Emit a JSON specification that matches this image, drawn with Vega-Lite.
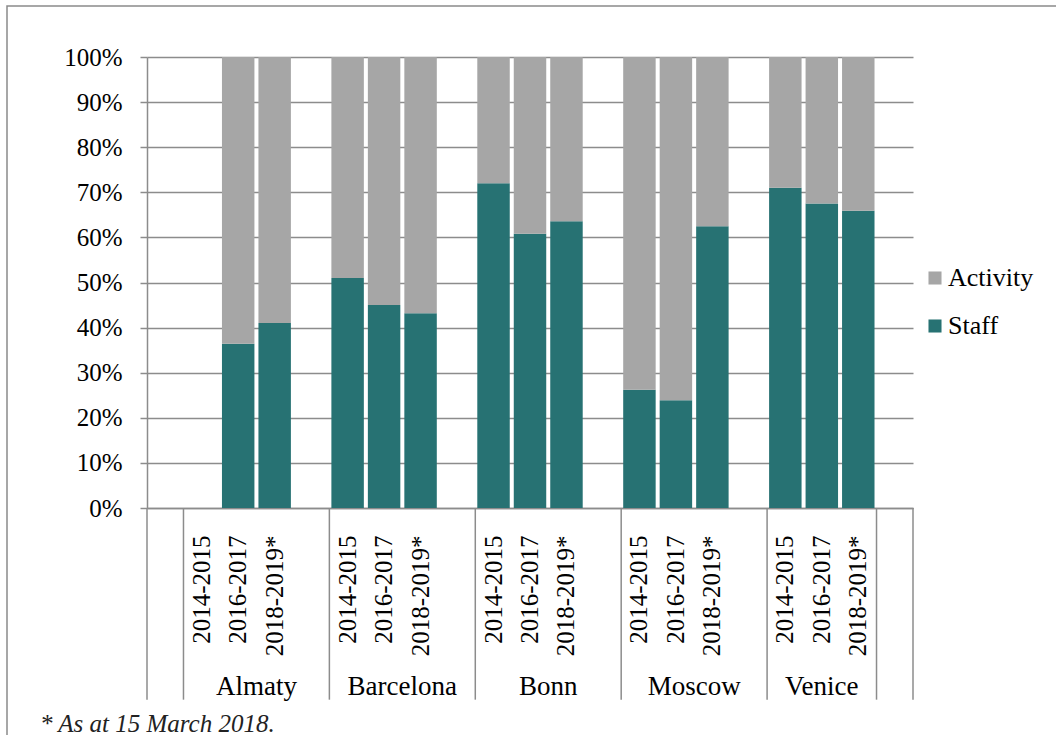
{
  "$schema": "https://vega.github.io/schema/vega-lite/v6.json",
  "width": 1060,
  "height": 740,
  "autosize": {"type": "none"},
  "padding": {"left": 7, "top": 6, "right": 0, "bottom": 0},
  "background": "white",
  "config": {
    "view": {"stroke": "#8a8a8a", "strokeWidth": 1.5},
    "font": "Liberation Serif",
    "text": {"font": "Liberation Serif", "color": "#000000"}
  },
  "title": {
    "text": "* As at 15 March 2018.",
    "orient": "top",
    "anchor": "start",
    "frame": "group",
    "offset": 0,
    "dx": 33,
    "dy": 751,
    "baseline": "alphabetic",
    "font": "Liberation Serif",
    "fontStyle": "italic",
    "fontWeight": "normal",
    "fontSize": 25,
    "color": "#222222"
  },
  "datasets": {
    "bars": [
      {"slot": "Almaty|2016-2017", "series": "Staff", "share": 0.364},
      {"slot": "Almaty|2016-2017", "series": "Activity", "share": 0.636},
      {"slot": "Almaty|2018-2019*", "series": "Staff", "share": 0.41},
      {"slot": "Almaty|2018-2019*", "series": "Activity", "share": 0.59},
      {"slot": "Barcelona|2014-2015", "series": "Staff", "share": 0.51},
      {"slot": "Barcelona|2014-2015", "series": "Activity", "share": 0.49},
      {"slot": "Barcelona|2016-2017", "series": "Staff", "share": 0.45},
      {"slot": "Barcelona|2016-2017", "series": "Activity", "share": 0.55},
      {"slot": "Barcelona|2018-2019*", "series": "Staff", "share": 0.432},
      {"slot": "Barcelona|2018-2019*", "series": "Activity", "share": 0.568},
      {"slot": "Bonn|2014-2015", "series": "Staff", "share": 0.72},
      {"slot": "Bonn|2014-2015", "series": "Activity", "share": 0.28},
      {"slot": "Bonn|2016-2017", "series": "Staff", "share": 0.608},
      {"slot": "Bonn|2016-2017", "series": "Activity", "share": 0.392},
      {"slot": "Bonn|2018-2019*", "series": "Staff", "share": 0.636},
      {"slot": "Bonn|2018-2019*", "series": "Activity", "share": 0.364},
      {"slot": "Moscow|2014-2015", "series": "Staff", "share": 0.262},
      {"slot": "Moscow|2014-2015", "series": "Activity", "share": 0.738},
      {"slot": "Moscow|2016-2017", "series": "Staff", "share": 0.239},
      {"slot": "Moscow|2016-2017", "series": "Activity", "share": 0.761},
      {"slot": "Moscow|2018-2019*", "series": "Staff", "share": 0.625},
      {"slot": "Moscow|2018-2019*", "series": "Activity", "share": 0.375},
      {"slot": "Venice|2014-2015", "series": "Staff", "share": 0.71},
      {"slot": "Venice|2014-2015", "series": "Activity", "share": 0.29},
      {"slot": "Venice|2016-2017", "series": "Staff", "share": 0.675},
      {"slot": "Venice|2016-2017", "series": "Activity", "share": 0.325},
      {"slot": "Venice|2018-2019*", "series": "Staff", "share": 0.659},
      {"slot": "Venice|2018-2019*", "series": "Activity", "share": 0.341}
    ],
    "separators": [
      {"slot": "_0"},
      {"slot": "Almaty|2014-2015"},
      {"slot": "Barcelona|2014-2015"},
      {"slot": "Bonn|2014-2015"},
      {"slot": "Moscow|2014-2015"},
      {"slot": "Venice|2014-2015"},
      {"slot": "_20"}
    ],
    "endSeparator": [{"slot": "_20"}],
    "groups4": [
      {"group": "Almaty", "slot": "Almaty|2018-2019*"},
      {"group": "Barcelona", "slot": "Barcelona|2018-2019*"},
      {"group": "Bonn", "slot": "Bonn|2018-2019*"},
      {"group": "Moscow", "slot": "Moscow|2018-2019*"}
    ],
    "groups3": [
      {"group": "Venice", "slot": "Venice|2016-2017"}
    ]
  },
  "layer": [
    {
      "data": {"name": "bars"},
      "mark": {"type": "bar", "width": {"band": 0.89}},
      "encoding": {
        "x": {
          "field": "slot",
          "type": "nominal",
          "sort": null,
          "scale": {
            "domain": ["_0", "Almaty|2014-2015", "Almaty|2016-2017", "Almaty|2018-2019*", "_4",
                       "Barcelona|2014-2015", "Barcelona|2016-2017", "Barcelona|2018-2019*", "_8",
                       "Bonn|2014-2015", "Bonn|2016-2017", "Bonn|2018-2019*", "_12",
                       "Moscow|2014-2015", "Moscow|2016-2017", "Moscow|2018-2019*", "_16",
                       "Venice|2014-2015", "Venice|2016-2017", "Venice|2018-2019*", "_20"],
            "range": [140, 906],
            "paddingInner": 0,
            "paddingOuter": 0
          },
          "axis": {
            "orient": "bottom",
            "offset": -238,
            "title": null,
            "labelExpr": "indexof(datum.value, '|') > 0 ? split(datum.value, '|')[1] : ''",
            "labelAngle": -90,
            "labelFont": "Liberation Serif",
            "labelFontSize": 25,
            "labelColor": "#000000",
            "labelPadding": 27,
            "labelOverlap": false,
            "ticks": false,
            "grid": false,
            "domainColor": "#8c8c8c",
            "domainWidth": 1.5
          }
        },
        "y": {
          "field": "share",
          "type": "quantitative",
          "stack": "zero",
          "scale": {"domain": [0, 1], "range": [502, 51], "nice": false},
          "axis": {
            "title": null,
            "offset": -140,
            "format": ".0%",
            "values": [0, 0.1, 0.2, 0.3, 0.4, 0.5, 0.6, 0.7, 0.8, 0.9, 1],
            "grid": true,
            "gridColor": "#8c8c8c",
            "gridWidth": 1.5,
            "domainColor": "#8c8c8c",
            "domainWidth": 1.5,
            "tickColor": "#8c8c8c",
            "tickWidth": 1.5,
            "tickSize": 7,
            "labelFont": "Liberation Serif",
            "labelFontSize": 25,
            "labelColor": "#000000",
            "labelPadding": 18
          }
        },
        "color": {
          "field": "series",
          "type": "nominal",
          "scale": {"domain": ["Activity", "Staff"], "range": ["#a6a6a6", "#277273"]},
          "legend": {
            "orient": "none",
            "legendX": 915,
            "legendY": 259,
            "title": null,
            "symbolType": "square",
            "symbolSize": 170,
            "symbolStrokeWidth": 0,
            "labelFont": "Liberation Serif",
            "labelFontSize": 26,
            "labelColor": "#000000",
            "labelOffset": 0,
            "rowPadding": 22,
            "padding": 0
          }
        },
        "order": {"field": "series", "sort": "descending"}
      }
    },
    {
      "data": {"name": "separators"},
      "mark": {"type": "rule", "color": "#8c8c8c", "strokeWidth": 1.5},
      "encoding": {
        "x": {"field": "slot", "type": "nominal", "bandPosition": 0},
        "y": {"datum": 0},
        "y2": {"datum": -0.425}
      }
    },
    {
      "data": {"name": "endSeparator"},
      "mark": {"type": "rule", "color": "#8c8c8c", "strokeWidth": 1.5},
      "encoding": {
        "x": {"field": "slot", "type": "nominal", "bandPosition": 1},
        "y": {"datum": 0},
        "y2": {"datum": -0.425}
      }
    },
    {
      "data": {"name": "groups4"},
      "mark": {"type": "text", "fontSize": 27, "align": "center", "baseline": "alphabetic", "font": "Liberation Serif", "color": "#000000"},
      "encoding": {
        "x": {"field": "slot", "type": "nominal", "bandPosition": 0},
        "y": {"datum": -0.414},
        "text": {"field": "group"}
      }
    },
    {
      "data": {"name": "groups3"},
      "mark": {"type": "text", "fontSize": 27, "align": "center", "baseline": "alphabetic", "font": "Liberation Serif", "color": "#000000"},
      "encoding": {
        "x": {"field": "slot", "type": "nominal", "bandPosition": 0.5},
        "y": {"datum": -0.414},
        "text": {"field": "group"}
      }
    }
  ]
}
